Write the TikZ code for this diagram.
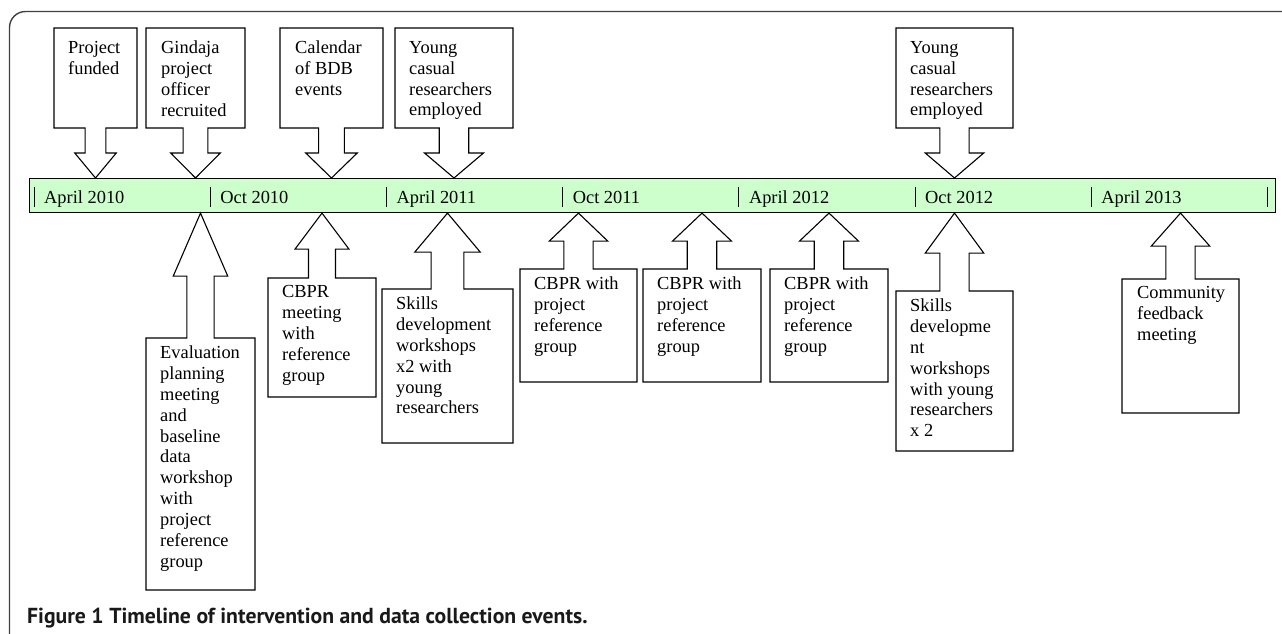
\documentclass[tikz,border=0pt]{standalone}
\usepackage{fontspec}
\setmainfont{Liberation Serif}
\newfontfamily\capfont{PT Sans}
\usetikzlibrary{positioning, calc}
\definecolor{barfill}{HTML}{CCFFCC}
\definecolor{framegray}{HTML}{404040}

\begin{document}
\begin{tikzpicture}[x=1pt, y=-1pt, font=\fontsize{18.4pt}{20.9pt}\selectfont,
    callbox/.style={anchor=north west, inner sep=0pt, outer sep=0pt},
    calltext/.style={inner sep=0pt, align=left},
    callline/.style={draw=black, line width=1.1pt, line join=miter},
    month/.style={anchor=base west, inner sep=0pt}]
\useasboundingbox (0,0) rectangle (1282,633);
% frame
\draw[framegray, line width=1.4pt, rounded corners=16pt] (9.5,640) -- (9.5,11.5) -- (1290,11.5);
% the time line
\node[draw=black, line width=1.1pt, fill=barfill, anchor=north west, minimum width=1246pt, minimum height=34pt, inner sep=0pt] (bar) at (29,178) {};
\foreach \i/\lbl in {0/April 2010, 1/Oct 2010, 2/April 2011, 3/Oct 2011, 4/April 2012, 5/Oct 2012, 6/April 2013}
	\node[month] (m\i) at (44+176.2*\i,203.5) {\lbl};
\foreach \i in {0,...,7}
	\draw[line width=0.9pt] (34+176.2*\i,187) -- (34+176.2*\i,207);

% callouts above the line
\node[callbox, minimum width=83pt, minimum height=100pt] (funded) at (54,28) {};
\node[callbox, minimum width=99pt, minimum height=100pt] (gindaja) at (146,28) {};
\node[callbox, minimum width=103pt, minimum height=100pt] (calendar) at (280,28) {};
\node[callbox, minimum width=118pt, minimum height=100pt] (youngA) at (395,28) {};
\node[callbox, minimum width=117pt, minimum height=100pt] (youngB) at (896,28) {};
\node[calltext, below right=13pt and 14pt of funded.north west] (fundedtext) {Project\\funded};
\node[calltext, below right=13pt and 15pt of gindaja.north west] (gindajatext) {Gindaja\\project\\officer\\recruited};
\node[calltext, below right=13pt and 15pt of calendar.north west] (calendartext) {Calendar\\of BDB\\events};
\node[calltext, below right=13pt and 14pt of youngA.north west] (youngAtext) {Young\\casual\\researchers\\employed};
\node[calltext, below right=13pt and 14pt of youngB.north west] (youngBtext) {Young\\casual\\researchers\\employed};
\foreach \b in {funded, gindaja, calendar, youngA, youngB}
	\draw[callline] let \p1=(\b.south west), \p2=(\b.south east), \p3=(\b.south |- bar.north),
		\n1={(\x2-\x1)/8}, \n2={(\x2-\x1)/4} in
		(\b.north west) -- (\b.north east) -- (\p2) -- (\x3+\n1,\y1) -- (\x3+\n1,\y3+25pt)
		-- (\x3+\n2,\y3+25pt) -- (\p3) -- (\x3-\n2,\y3+25pt) -- (\x3-\n1,\y3+25pt)
		-- (\x3-\n1,\y1) -- (\p1) -- cycle;

% callouts below the line
\node[callbox, minimum width=109pt, minimum height=252pt] (evaluation) at (146,338) {};
\node[callbox, minimum width=108pt, minimum height=119pt] (cbprmeet) at (268,278) {};
\node[callbox, minimum width=131pt, minimum height=154pt] (skillsA) at (382,289) {};
\node[callbox, minimum width=117pt, minimum height=113pt] (cbprA) at (520,269) {};
\node[callbox, minimum width=118pt, minimum height=113pt] (cbprB) at (643,269) {};
\node[callbox, minimum width=118pt, minimum height=113pt] (cbprC) at (770,269) {};
\node[callbox, minimum width=117pt, minimum height=160pt] (skillsB) at (896,291) {};
\node[callbox, minimum width=117pt, minimum height=134pt] (community) at (1122,279) {};
\node[calltext, below right=7.5pt and 14pt of evaluation.north west] (evaluationtext) {Evaluation\\planning\\meeting\\and\\baseline\\data\\workshop\\with\\project\\reference\\group};
\node[calltext, below right=7.5pt and 14pt of cbprmeet.north west] (cbprmeettext) {CBPR\\meeting\\with\\reference\\group};
\node[calltext, below right=7.5pt and 14pt of skillsA.north west] (skillsAtext) {Skills\\development\\workshops\\x2 with\\young\\researchers};
\node[calltext, below right=7.5pt and 14pt of cbprA.north west] (cbprAtext) {CBPR with\\project\\reference\\group};
\node[calltext, below right=7.5pt and 14pt of cbprB.north west] (cbprBtext) {CBPR with\\project\\reference\\group};
\node[calltext, below right=7.5pt and 14pt of cbprC.north west] (cbprCtext) {CBPR with\\project\\reference\\group};
\node[calltext, below right=7.5pt and 14pt of skillsB.north west] (skillsBtext) {Skills\\developme\\nt\\workshops\\with young\\researchers\\x 2};
\node[calltext, below right=7.5pt and 15pt of community.north west] (communitytext) {Community\\feedback\\meeting};
\foreach \b/\h in {evaluation/63, cbprmeet/36, skillsA/39, cbprA/28, cbprB/28, cbprC/28, skillsB/40, community/33}
	\draw[callline] let \p1=(\b.north west), \p2=(\b.north east), \p3=(\b.north |- bar.south),
		\n1={(\x2-\x1)/8}, \n2={(\x2-\x1)/4} in
		(\b.south west) -- (\b.south east) -- (\p2) -- (\x3+\n1,\y1) -- (\x3+\n1,\y3-\h*1pt)
		-- (\x3+\n2,\y3-\h*1pt) -- (\p3) -- (\x3-\n2,\y3-\h*1pt) -- (\x3-\n1,\y3-\h*1pt)
		-- (\x3-\n1,\y1) -- (\p1) -- cycle;

% caption
\node[anchor=base west, inner sep=0pt, text=black!90, font=\capfont\bfseries\fontsize{21.7pt}{25pt}\selectfont] (caption) at (27,623) {Figure 1 Timeline of intervention and data collection events.};
\end{tikzpicture}
\end{document}
